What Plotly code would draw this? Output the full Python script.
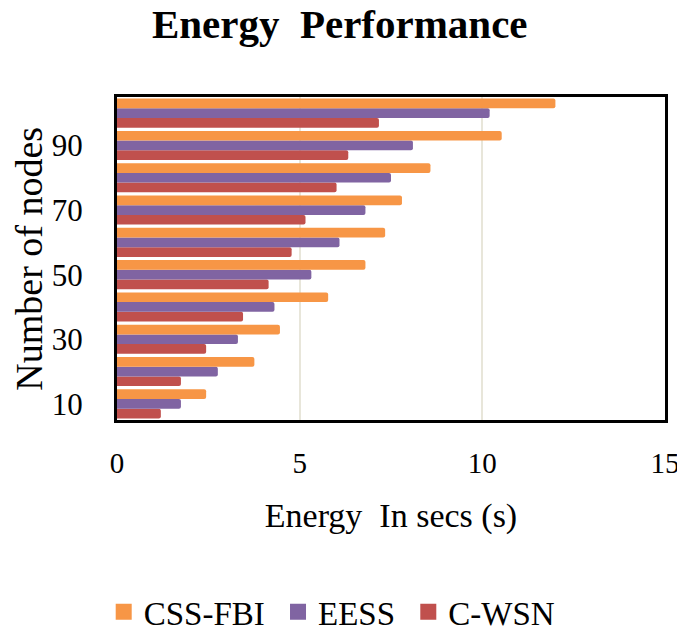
import plotly.graph_objects as go

# ─── Data ─────────────────────────────────────────────────────────────────────

nodes = [10, 20, 30, 40, 50, 60, 70, 80, 90, 100]
css_fbi = [2.44, 3.76, 4.46, 5.78, 6.8, 7.34, 7.8, 8.58, 10.53, 12.0]
eess = [1.75, 2.76, 3.31, 4.31, 5.32, 6.09, 6.8, 7.5, 8.1, 10.2]
c_wsn = [1.2, 1.75, 2.44, 3.45, 4.15, 4.78, 5.16, 6.01, 6.33, 7.17]

series_names = ["CSS-FBI", "EESS", "C-WSN"]
colors = ["#F79646", "#8064A2", "#C0504D"]

FONT = "Liberation Serif"

# page body adds ~8px margin, so the figure is drawn 8px smaller
W, H = 677, 626

# ─── Figure ───────────────────────────────────────────────────────────────────

fig = go.Figure()

# plotly stacks horizontal group bars bottom-up, so add C-WSN first
for name, vals, col in reversed(list(zip(series_names, [css_fbi, eess, c_wsn], colors))):
    fig.add_trace(go.Bar(
        y=nodes, x=vals,
        orientation="h",
        name=name,
        marker=dict(color=col, line=dict(width=0), cornerradius=2),
        showlegend=False,
    ))

# legend-only square markers (bar legend icons are too small)
for name, col in zip(series_names, colors):
    fig.add_trace(go.Scatter(
        x=[None], y=[None],
        mode="markers",
        name=name + "\u00a0",
        marker=dict(color=col, symbol="square", size=20),
    ))

fig.update_layout(
    width=W, height=H,
    barmode="group",
    bargap=0.1,
    bargroupgap=0.0,
    plot_bgcolor="white",
    paper_bgcolor="white",
    font=dict(family=FONT, color="black"),
    title=dict(
        text="<b>Energy  Performance</b>",
        x=0.49, xanchor="center",
        y=1.0, yanchor="top",
        pad=dict(t=1),
        font=dict(size=41, family=FONT),
    ),
    margin=dict(l=109, r=20, t=89, b=214, autoexpand=False),
    legend=dict(
        orientation="h",
        x=0.40, xanchor="center",
        y=-0.594, yanchor="middle",
        font=dict(size=33, family=FONT),
        itemwidth=30,
        tracegroupgap=0,
    ),
    xaxis=dict(
        range=[0, 15],
        tickvals=[0, 5, 10, 15],
        tickfont=dict(size=29),
        ticks="outside", ticklen=15, tickcolor="rgba(0,0,0,0)",
        showgrid=True, gridcolor="#E8E6DA", gridwidth=2,
        zeroline=False,
        showline=True, linecolor="black", linewidth=3, mirror=True,
        automargin=False,
        title=dict(text="Energy  In secs (s)", font=dict(size=34), standoff=26),
    ),
    yaxis=dict(
        range=[5, 105],
        tickvals=[10, 30, 50, 70, 90],
        tickfont=dict(size=31),
        ticks="outside", ticklen=25, tickcolor="rgba(0,0,0,0)",
        showgrid=False,
        zeroline=False,
        showline=True, linecolor="black", linewidth=3, mirror=True,
        automargin=False,
    ),
    annotations=[dict(
        text="Number of nodes",
        xref="paper", yref="paper",
        x=-0.162, y=0.5,
        xanchor="center", yanchor="middle",
        textangle=-90,
        showarrow=False,
        font=dict(size=38, family=FONT),
    )],
)

fig.write_html("out.html")
